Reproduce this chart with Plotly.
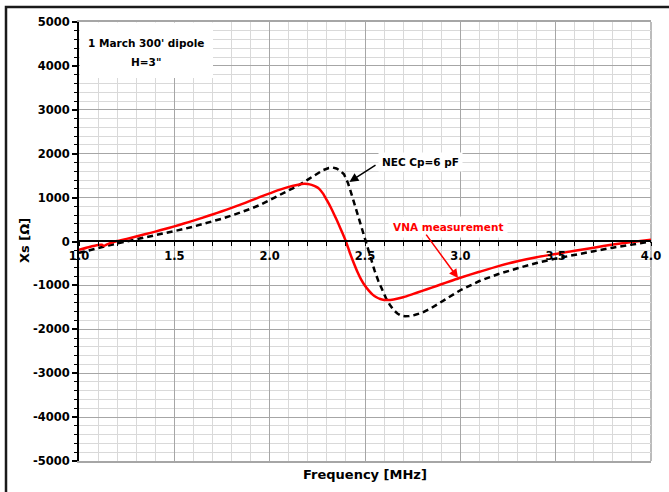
import plotly.graph_objects as go

# ---------------- data ----------------
freq_vna = [1.00, 1.05, 1.10, 1.12, 1.13, 1.15, 1.20, 1.25, 1.30, 1.35, 1.40, 1.45, 1.50, 1.55,
            1.60, 1.65, 1.70, 1.75, 1.80, 1.85, 1.90, 1.95, 2.00, 2.05, 2.10, 2.15, 2.18, 2.20,
            2.22, 2.24, 2.26, 2.28, 2.30, 2.32, 2.34, 2.36, 2.38, 2.40, 2.42, 2.44, 2.46, 2.48,
            2.50, 2.52, 2.54, 2.56, 2.58, 2.60, 2.62, 2.65, 2.70, 2.75, 2.80, 2.85, 2.90, 2.95,
            3.00, 3.10, 3.20, 3.30, 3.40, 3.50, 3.60, 3.70, 3.80, 3.90, 4.00]
xs_vna = [-190, -130, -80, -75, -100, -60, 10, 60, 115, 170, 225, 285, 345, 410,
          475, 545, 615, 690, 765, 845, 930, 1015, 1095, 1175, 1245, 1295, 1315, 1310,
          1290, 1255, 1200, 1090, 940, 780, 600, 410, 210, 0, -250, -480, -690, -870,
          -1010, -1120, -1210, -1270, -1310, -1330, -1335, -1320, -1270, -1200, -1125, -1050, -975, -900,
          -825, -690, -560, -450, -360, -285, -210, -140, -70, -10, 40]

freq_nec = [1.00, 1.05, 1.10, 1.15, 1.20, 1.25, 1.30, 1.35, 1.40, 1.45, 1.50, 1.55, 1.60, 1.65,
            1.70, 1.75, 1.80, 1.85, 1.90, 1.95, 2.00, 2.05, 2.10, 2.15, 2.20, 2.25, 2.28, 2.31,
            2.33, 2.35, 2.37, 2.39, 2.41, 2.43, 2.45, 2.47, 2.49, 2.51, 2.53, 2.55, 2.57, 2.59,
            2.61, 2.63, 2.65, 2.67, 2.69, 2.71, 2.73, 2.76, 2.80, 2.85, 2.90, 2.95, 3.00, 3.10,
            3.20, 3.30, 3.40, 3.50, 3.60, 3.70, 3.80, 3.90, 4.00]
xs_nec = [-260, -200, -145, -95, -45, 0, 45, 90, 140, 185, 235, 285, 340, 395,
          455, 520, 590, 665, 745, 835, 950, 1055, 1165, 1275, 1410, 1550, 1625, 1675,
          1685, 1665, 1610, 1530, 1340, 1070, 780, 490, 200, -100, -390, -660, -900, -1110,
          -1290, -1440, -1560, -1640, -1690, -1705, -1700, -1675, -1620, -1510, -1380, -1240, -1110, -900,
          -740, -610, -490, -390, -300, -220, -140, -70, 0]

x_tick_vals = [1.0, 1.5, 2.0, 2.5, 3.0, 3.5, 4.0]
x_tick_text = ["1.0", "1.5", "2.0", "2.5", "3.0", "3.5", "4.0"]
y_tick_vals = [-5000, -4000, -3000, -2000, -1000, 0, 1000, 2000, 3000, 4000, 5000]
y_tick_text = [str(v) for v in y_tick_vals]

x_title = "Frequency [MHz]"
y_title = "Xs [Ω]"
box_lines = ["1 March 300' dipole", 'H=3"']
nec_label = "NEC Cp=6 pF"
vna_label = "VNA measurement"

# ---------------- layout helpers ----------------
W, H = 669, 492
L, R, T, B = 79, 18, 22, 31
PW, PH = W - L - R, H - T - B


def px(xp):
    return (xp - L) / PW


def py(yp):
    return (H - B - yp) / PH


FONT = "DejaVu Sans"
tick_font = dict(family=FONT, size=11.5, color="black", weight="bold")

fig = go.Figure()
fig.add_trace(go.Scatter(x=freq_nec, y=xs_nec, mode="lines", name="NEC",
                         line=dict(color="black", width=2.5, dash="6px,4px"),
                         xaxis="x", yaxis="y"))
fig.add_trace(go.Scatter(x=freq_vna, y=xs_vna, mode="lines", name="VNA",
                         line=dict(color="#ff0000", width=2.5, shape="spline", smoothing=0.6),
                         xaxis="x2", yaxis="y"))

fig.update_layout(
    template="none",
    width=W, height=H,
    margin=dict(l=L, r=R, t=T, b=B, autoexpand=False),
    paper_bgcolor="white", plot_bgcolor="white",
    showlegend=False,
    xaxis=dict(
        range=[1, 4], showticklabels=False, ticks="", automargin=False,
        tickvals=x_tick_vals,
        showgrid=True, gridcolor="#a6a6a6", gridwidth=1,
        minor=dict(dtick=0.1, tick0=1, showgrid=True, gridcolor="#d9d9d9", gridwidth=1),
        showline=True, linecolor="#a6a6a6", linewidth=1.5, mirror=True,
        zeroline=False,
    ),
    xaxis2=dict(
        range=[1, 4], matches="x", overlaying="x", anchor="free", position=py(241.35),
        automargin=False,
        tickvals=x_tick_vals, ticktext=x_tick_text, tickfont=tick_font,
        ticks="outside", ticklen=4, tickwidth=1.2, tickcolor="black",
        minor=dict(dtick=0.1, tick0=1, ticks="outside", ticklen=4, tickwidth=1.2,
                   tickcolor="black", showgrid=False),
        showgrid=False, zeroline=False,
        showline=True, linecolor="black", linewidth=2,
    ),
    yaxis=dict(
        range=[-5000, 5000], tickvals=y_tick_vals, ticktext=y_tick_text, tickfont=tick_font,
        automargin=False,
        ticks="outside", ticklen=5, tickwidth=1.5, tickcolor="black",
        showgrid=True, gridcolor="#a6a6a6", gridwidth=1,
        minor=dict(dtick=200, tick0=0, ticks="outside", ticklen=3, tickwidth=1.2,
                   tickcolor="black", showgrid=True, gridcolor="#d9d9d9", gridwidth=1),
        showline=True, linecolor="black", linewidth=2, mirror=False,
        zeroline=False,
    ),
)

shapes = [
    # right plot border (grey)
    dict(type="line", xref="paper", yref="paper", x0=1, x1=1, y0=0, y1=1,
         line=dict(color="#a6a6a6", width=1.5), layer="below"),
    # white box behind the title text
    dict(type="rect", xref="paper", yref="paper", x0=px(80), x1=px(213), y0=py(78), y1=py(22.5),
         fillcolor="white", line=dict(width=0), layer="above"),
    # outer chart border (right/bottom edges fall outside the image)
    dict(type="rect", xref="paper", yref="paper", x0=px(6), x1=px(720), y0=py(540), y1=py(7),
         line=dict(color="#1a1a1a", width=2.5), fillcolor="rgba(0,0,0,0)", layer="above"),
]
fig.update_layout(shapes=shapes)

ann_font = dict(family=FONT, size=10.5, color="black", weight="bold")
annotations = [
    dict(text=x_title, xref="paper", yref="paper", x=px(365), y=py(474), showarrow=False,
         xanchor="center", yanchor="middle", font=dict(family=FONT, size=13, color="black", weight="bold")),
    dict(text=y_title, xref="paper", yref="paper", x=px(25), y=py(241), showarrow=False, textangle=-90,
         xanchor="center", yanchor="middle", font=dict(family=FONT, size=13, color="black", weight="bold")),
    dict(text=box_lines[0], xref="paper", yref="paper", x=px(146), y=py(43), showarrow=False,
         xanchor="center", yanchor="middle", font=ann_font),
    dict(text=box_lines[1], xref="paper", yref="paper", x=px(146), y=py(62), showarrow=False,
         xanchor="center", yanchor="middle", font=ann_font),
    # NEC label + arrow
    dict(text=nec_label, xref="x", yref="y", x=2.568, y=1810, showarrow=False,
         xanchor="left", yanchor="middle", font=ann_font, bgcolor="white", borderpad=3),
    dict(text="", xref="x", yref="y", x=2.418, y=1358, axref="x", ayref="y", ax=2.563, ay=1761,
         showarrow=True, arrowhead=2, arrowsize=1.2, arrowwidth=1.5, arrowcolor="black"),
    # VNA label + arrow
    dict(text=vna_label, xref="x", yref="y", x=2.935, y=327, showarrow=False,
         xanchor="center", yanchor="middle", font=dict(family=FONT, size=10.5, color="#ff0000", weight="bold"),
         bgcolor="white", borderpad=4),
    dict(text="", xref="x", yref="y", x=2.988, y=-834, axref="x", ayref="y", ax=2.815, ay=190,
         showarrow=True, arrowhead=2, arrowsize=1.2, arrowwidth=1.5, arrowcolor="#ff0000"),
]
fig.update_layout(annotations=annotations)

# remove the browser's default 8px page margin so the figure sits at the window origin
fig.write_html("out.html", config={"displayModeBar": False},
               post_script="document.body.style.margin='0';")
